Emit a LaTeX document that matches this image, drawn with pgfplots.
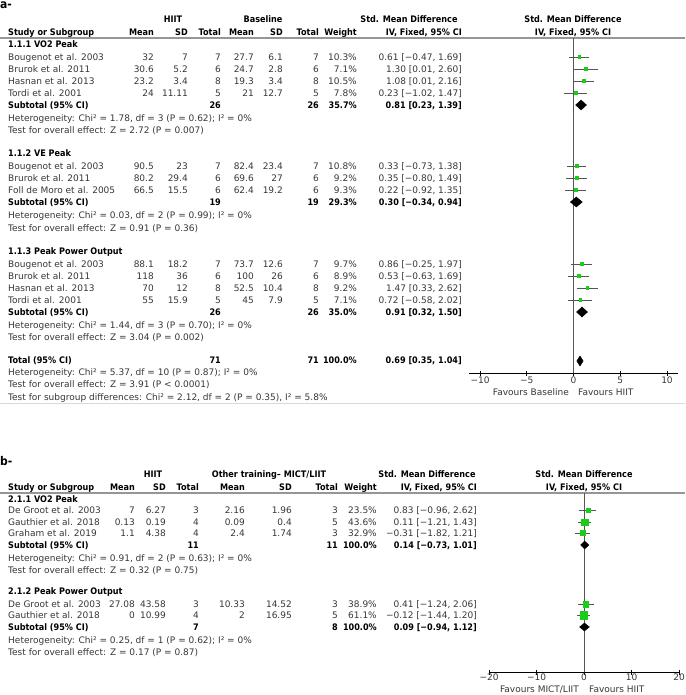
\documentclass[border=0pt]{standalone}
\usepackage{pgfplots}
\pgfplotsset{compat=1.18}
\usepackage{fontspec}
\setmainfont{DejaVu Sans}[BoldFeatures={FakeStretch=0.9}]
\definecolor{txt}{RGB}{55,55,55}
\definecolor{cigray}{RGB}{85,85,85}
\definecolor{sqgreen}{RGB}{25,205,25}
\definecolor{linegray}{RGB}{150,150,150}
\newcommand\TL[3]{\node[anchor=base west,inner sep=0pt,yshift=-3.4pt] at (#1pt,-#2pt) {#3};}
\newcommand\TR[3]{\node[anchor=base east,inner sep=0pt,yshift=-3.4pt] at (#1pt,-#2pt) {#3};}
\newcommand\TC[3]{\node[anchor=base,inner sep=0pt,yshift=-3.4pt] at (#1pt,-#2pt) {#3};}
% panel a row
\newcommand\RowA[9]{\begin{scope}[txt]\TL{8}{#1}{#2}\TR{154}{#1}{#3}\TR{188}{#1}{#4}\TR{221}{#1}{#5}\TR{254}{#1}{#6}\TR{283}{#1}{#7}\TR{319}{#1}{#8}\TR{357}{#1}{#9}\end{scope}}
\newcommand\CIA[2]{\begin{scope}[txt]\TR{462}{#1}{#2}\end{scope}}
% panel b row
\newcommand\RowB[9]{\begin{scope}[txt]\TL{8}{#1}{#2}\TR{135}{#1}{#3}\TR{166}{#1}{#4}\TR{199}{#1}{#5}\TR{245}{#1}{#6}\TR{292}{#1}{#7}\TR{338}{#1}{#8}\TR{377}{#1}{#9}\end{scope}}
\newcommand\CIB[2]{\begin{scope}[txt]\TR{477}{#1}{#2}\end{scope}}
\tikzset{bf/.style={font=\fontsize{9}{11}\selectfont\bfseries, black}}
\begin{document}
\begin{tikzpicture}[font=\fontsize{9}{11}\selectfont]
\useasboundingbox (0,0) rectangle (685pt,-695pt);
\fill[white] (0,0) rectangle (685pt,-695pt);
% ================= PANEL A =================
\node[anchor=base west,inner sep=0pt,font=\fontsize{12}{14}\selectfont\bfseries] at (0pt,-9pt) {a-};
\begin{scope}[bf]
\TC{173}{19}{HIIT}\TC{263}{19}{Baseline}\TC{409}{19}{Std. Mean Difference}\TC{573}{19}{Std. Mean Difference}
\TL{8}{32}{Study or Subgroup}\TR{154}{32}{Mean}\TR{188}{32}{SD}\TR{221}{32}{Total}\TR{254}{32}{Mean}\TR{283}{32}{SD}\TR{319}{32}{Total}\TR{357}{32}{Weight}\TR{462}{32}{IV, Fixed, 95\% CI}\TC{573}{32}{IV, Fixed, 95\% CI}
\end{scope}
\draw[linegray,line width=1.6pt] (0pt,-38pt) -- (685pt,-38pt);
\draw[black!15,line width=0.8pt] (0pt,-403pt) -- (685pt,-403pt);
% VO2 peak
\begin{scope}[bf]\TL{8}{44}{1.1.1 VO2 Peak}\end{scope}
\RowA{57}{Bougenot et al. 2003}{32}{7}{7}{27.7}{6.1}{7}{10.3\%}\CIA{57}{0.61 [−0.47, 1.69]}
\RowA{69}{Brurok et al. 2011}{30.6}{5.2}{6}{24.7}{2.8}{6}{7.1\%}\CIA{69}{1.30 [0.01, 2.60]}
\RowA{81}{Hasnan et al. 2013}{23.2}{3.4}{8}{19.3}{3.4}{8}{10.5\%}\CIA{81}{1.08 [0.01, 2.16]}
\RowA{93}{Tordi et al. 2001}{24}{11.11}{5}{21}{12.7}{5}{7.8\%}\CIA{93}{0.23 [−1.02, 1.47]}
\begin{scope}[bf]
\TL{8}{105}{Subtotal (95\% CI)}\TR{221}{105}{26}\TR{319}{105}{26}\TR{357}{105}{35.7\%}\TR{462}{105}{0.81 [0.23, 1.39]}
\end{scope}
\begin{scope}[txt]
\TL{8}{118}{Heterogeneity: Chi² = 1.78, df = 3 (P = 0.62); I² = 0\%}
\TL{8}{130}{Test for overall effect: Z = 2.72 (P = 0.007)}
\end{scope}
% VE peak
\begin{scope}[bf]\TL{8}{153}{1.1.2 VE Peak}\end{scope}
\RowA{166}{Bougenot et al. 2003}{90.5}{23}{7}{82.4}{23.4}{7}{10.8\%}\CIA{166}{0.33 [−0.73, 1.38]}
\RowA{178}{Brurok et al. 2011}{80.2}{29.4}{6}{69.6}{27}{6}{9.2\%}\CIA{178}{0.35 [−0.80, 1.49]}
\RowA{190}{Foll de Moro et al. 2005}{66.5}{15.5}{6}{62.4}{19.2}{6}{9.3\%}\CIA{190}{0.22 [−0.92, 1.35]}
\begin{scope}[bf]
\TL{8}{202}{Subtotal (95\% CI)}\TR{221}{202}{19}\TR{319}{202}{19}\TR{357}{202}{29.3\%}\TR{462}{202}{0.30 [−0.34, 0.94]}
\end{scope}
\begin{scope}[txt]
\TL{8}{215}{Heterogeneity: Chi² = 0.03, df = 2 (P = 0.99); I² = 0\%}
\TL{8}{228}{Test for overall effect: Z = 0.91 (P = 0.36)}
\end{scope}
% Peak power
\begin{scope}[bf]\TL{8}{251}{1.1.3 Peak Power Output}\end{scope}
\RowA{264}{Bougenot et al. 2003}{88.1}{18.2}{7}{73.7}{12.6}{7}{9.7\%}\CIA{264}{0.86 [−0.25, 1.97]}
\RowA{276}{Brurok et al. 2011}{118}{36}{6}{100}{26}{6}{8.9\%}\CIA{276}{0.53 [−0.63, 1.69]}
\RowA{288}{Hasnan et al. 2013}{70}{12}{8}{52.5}{10.4}{8}{9.2\%}\CIA{288}{1.47 [0.33, 2.62]}
\RowA{300}{Tordi et al. 2001}{55}{15.9}{5}{45}{7.9}{5}{7.1\%}\CIA{300}{0.72 [−0.58, 2.02]}
\begin{scope}[bf]
\TL{8}{312}{Subtotal (95\% CI)}\TR{221}{312}{26}\TR{319}{312}{26}\TR{357}{312}{35.0\%}\TR{462}{312}{0.91 [0.32, 1.50]}
\end{scope}
\begin{scope}[txt]
\TL{8}{325}{Heterogeneity: Chi² = 1.44, df = 3 (P = 0.70); I² = 0\%}
\TL{8}{337}{Test for overall effect: Z = 3.04 (P = 0.002)}
\end{scope}
% Total
\begin{scope}[bf]
\TL{8}{360}{Total (95\% CI)}\TR{221}{360}{71}\TR{319}{360}{71}\TR{357}{360}{100.0\%}\TR{462}{360}{0.69 [0.35, 1.04]}
\end{scope}
\begin{scope}[txt]
\TL{8}{372}{Heterogeneity: Chi² = 5.37, df = 10 (P = 0.87); I² = 0\%}
\TL{8}{384}{Test for overall effect: Z = 3.91 (P < 0.0001)}
\TL{8}{397}{Test for subgroup differences: Chi² = 2.12, df = 2 (P = 0.35), I² = 5.8\%}
\end{scope}
\begin{scope}[txt]\TR{569}{392}{Favours Baseline}\TL{578}{392}{Favours HIIT}\end{scope}

\begin{axis}[at={(469pt,-373pt)}, anchor=south west, scale only axis,
  width=209pt, height=335pt, xmin=-11.18, xmax=11.18, ymin=-373, ymax=-38,
  axis x line*=bottom, axis y line=none, clip=false,
  xtick={-10,-5,0,5,10}, xticklabels={−10,−5,0,5,10},
  tick align=center, major tick length=5pt, tick style={black, line width=0.6pt},
  axis line style={black, line width=0.8pt},
  xticklabel style={font=\fontsize{9}{11}\selectfont, txt, inner sep=0pt, yshift=-1pt}]
\addplot[cigray, line width=0.8pt] coordinates {(0,-38) (0,-373)};
% confidence intervals
\addplot[cigray, line width=0.8pt] coordinates {(-0.47,-57) (1.69,-57)};
\addplot[cigray, line width=0.8pt] coordinates {(0.01,-69) (2.60,-69)};
\addplot[cigray, line width=0.8pt] coordinates {(0.01,-81) (2.16,-81)};
\addplot[cigray, line width=0.8pt] coordinates {(-1.02,-93) (1.47,-93)};
\addplot[cigray, line width=0.8pt] coordinates {(-0.73,-166) (1.38,-166)};
\addplot[cigray, line width=0.8pt] coordinates {(-0.80,-178) (1.49,-178)};
\addplot[cigray, line width=0.8pt] coordinates {(-0.92,-190) (1.35,-190)};
\addplot[cigray, line width=0.8pt] coordinates {(-0.25,-264) (1.97,-264)};
\addplot[cigray, line width=0.8pt] coordinates {(-0.63,-276) (1.69,-276)};
\addplot[cigray, line width=0.8pt] coordinates {(0.33,-288) (2.62,-288)};
\addplot[cigray, line width=0.8pt] coordinates {(-0.58,-300) (2.02,-300)};
% point estimates
\addplot[only marks, mark=square*, mark size=1.4pt, sqgreen, mark options={draw=sqgreen, fill=sqgreen}] coordinates {
(0.61,-57) (1.30,-69) (1.08,-81) (0.23,-93)
(0.33,-166) (0.35,-178) (0.22,-190)
(0.86,-264) (0.53,-276) (1.47,-288) (0.72,-300)};
% diamonds
\addplot[fill=black, draw=black] coordinates {(0.23,-105) (0.81,-100) (1.39,-105) (0.81,-110)} -- cycle;
\addplot[fill=black, draw=black] coordinates {(-0.34,-202) (0.30,-197) (0.94,-202) (0.30,-207)} -- cycle;
\addplot[fill=black, draw=black] coordinates {(0.32,-312) (0.91,-307) (1.50,-312) (0.91,-317)} -- cycle;
\addplot[fill=black, draw=black] coordinates {(0.35,-361) (0.69,-356) (1.04,-361) (0.69,-366)} -- cycle;
\end{axis}

% ================= PANEL B =================
\node[anchor=base west,inner sep=0pt,font=\fontsize{12}{14}\selectfont\bfseries] at (0pt,-465pt) {b-};
\begin{scope}[bf]
\TC{153}{474}{HIIT}\TC{269}{474}{Other training– MICT/LIIT}\TC{427}{474}{Std. Mean Difference}\TC{584}{474}{Std. Mean Difference}
\TL{8}{487}{Study or Subgroup}\TR{135}{487}{Mean}\TR{166}{487}{SD}\TR{199}{487}{Total}\TR{245}{487}{Mean}\TR{292}{487}{SD}\TR{338}{487}{Total}\TR{377}{487}{Weight}\TR{477}{487}{IV, Fixed, 95\% CI}\TC{584}{487}{IV, Fixed, 95\% CI}
\end{scope}
\draw[linegray,line width=1.6pt] (0pt,-493pt) -- (685pt,-493pt);
\begin{scope}[bf]\TL{8}{499}{2.1.1 VO2 Peak}\end{scope}
\RowB{510}{De Groot et al. 2003}{7}{6.27}{3}{2.16}{1.96}{3}{23.5\%}\CIB{510}{0.83 [−0.96, 2.62]}
\RowB{522}{Gauthier et al. 2018}{0.13}{0.19}{4}{0.09}{0.4}{5}{43.6\%}\CIB{522}{0.11 [−1.21, 1.43]}
\RowB{533}{Graham et al. 2019}{1.1}{4.38}{4}{2.4}{1.74}{3}{32.9\%}\CIB{533}{−0.31 [−1.82, 1.21]}
\begin{scope}[bf]
\TL{8}{545}{Subtotal (95\% CI)}\TR{199}{545}{11}\TR{338}{545}{11}\TR{377}{545}{100.0\%}\TR{477}{545}{0.14 [−0.73, 1.01]}
\end{scope}
\begin{scope}[txt]
\TL{8}{558}{Heterogeneity: Chi² = 0.91, df = 2 (P = 0.63); I² = 0\%}
\TL{8}{570}{Test for overall effect: Z = 0.32 (P = 0.75)}
\end{scope}
\begin{scope}[bf]\TL{8}{591}{2.1.2 Peak Power Output}\end{scope}
\RowB{604}{De Groot et al. 2003}{27.08}{43.58}{3}{10.33}{14.52}{3}{38.9\%}\CIB{604}{0.41 [−1.24, 2.06]}
\RowB{615}{Gauthier et al. 2018}{0}{10.99}{4}{2}{16.95}{5}{61.1\%}\CIB{615}{−0.12 [−1.44, 1.20]}
\begin{scope}[bf]
\TL{8}{627}{Subtotal (95\% CI)}\TR{199}{627}{7}\TR{338}{627}{8}\TR{377}{627}{100.0\%}\TR{477}{627}{0.09 [−0.94, 1.12]}
\end{scope}
\begin{scope}[txt]
\TL{8}{640}{Heterogeneity: Chi² = 0.25, df = 1 (P = 0.62); I² = 0\%}
\TL{8}{652}{Test for overall effect: Z = 0.17 (P = 0.87)}
\end{scope}
\begin{scope}[txt]\TR{579}{689}{Favours MICT/LIIT}\TL{589}{689}{Favours HIIT}\end{scope}

\begin{axis}[at={(489pt,-672pt)}, anchor=south west, scale only axis,
  width=190pt, height=179pt, xmin=-20, xmax=20, ymin=-672, ymax=-493,
  axis x line*=bottom, axis y line=none, clip=false,
  xtick={-20,-10,0,10,20}, xticklabels={−20,−10,0,10,20},
  tick align=center, major tick length=5pt, tick style={black, line width=0.6pt},
  axis line style={black, line width=0.8pt},
  xticklabel style={font=\fontsize{9}{11}\selectfont, txt, inner sep=0pt, yshift=1pt}]
\addplot[cigray, line width=0.8pt] coordinates {(0,-493) (0,-672)};
\addplot[cigray, line width=0.8pt] coordinates {(-0.96,-510) (2.62,-510)};
\addplot[cigray, line width=0.8pt] coordinates {(-1.21,-522) (1.43,-522)};
\addplot[cigray, line width=0.8pt] coordinates {(-1.82,-533) (1.21,-533)};
\addplot[cigray, line width=0.8pt] coordinates {(-1.24,-604) (2.06,-604)};
\addplot[cigray, line width=0.8pt] coordinates {(-1.44,-615) (1.20,-615)};
\addplot[only marks, mark=square*, mark size=2.2pt, sqgreen, mark options={draw=sqgreen, fill=sqgreen}] coordinates {(0.83,-510)};
\addplot[only marks, mark=square*, mark size=3.2pt, sqgreen, mark options={draw=sqgreen, fill=sqgreen}] coordinates {(0.11,-522)};
\addplot[only marks, mark=square*, mark size=2.5pt, sqgreen, mark options={draw=sqgreen, fill=sqgreen}] coordinates {(-0.31,-533)};
\addplot[only marks, mark=square*, mark size=2.7pt, sqgreen, mark options={draw=sqgreen, fill=sqgreen}] coordinates {(0.41,-604)};
\addplot[only marks, mark=square*, mark size=3.7pt, sqgreen, mark options={draw=sqgreen, fill=sqgreen}] coordinates {(-0.12,-615)};
\addplot[fill=black, draw=black] coordinates {(-0.73,-545) (0.14,-541) (1.01,-545) (0.14,-549)} -- cycle;
\addplot[fill=black, draw=black] coordinates {(-0.94,-627) (0.09,-623) (1.12,-627) (0.09,-631)} -- cycle;
\end{axis}
\end{tikzpicture}
\end{document}
